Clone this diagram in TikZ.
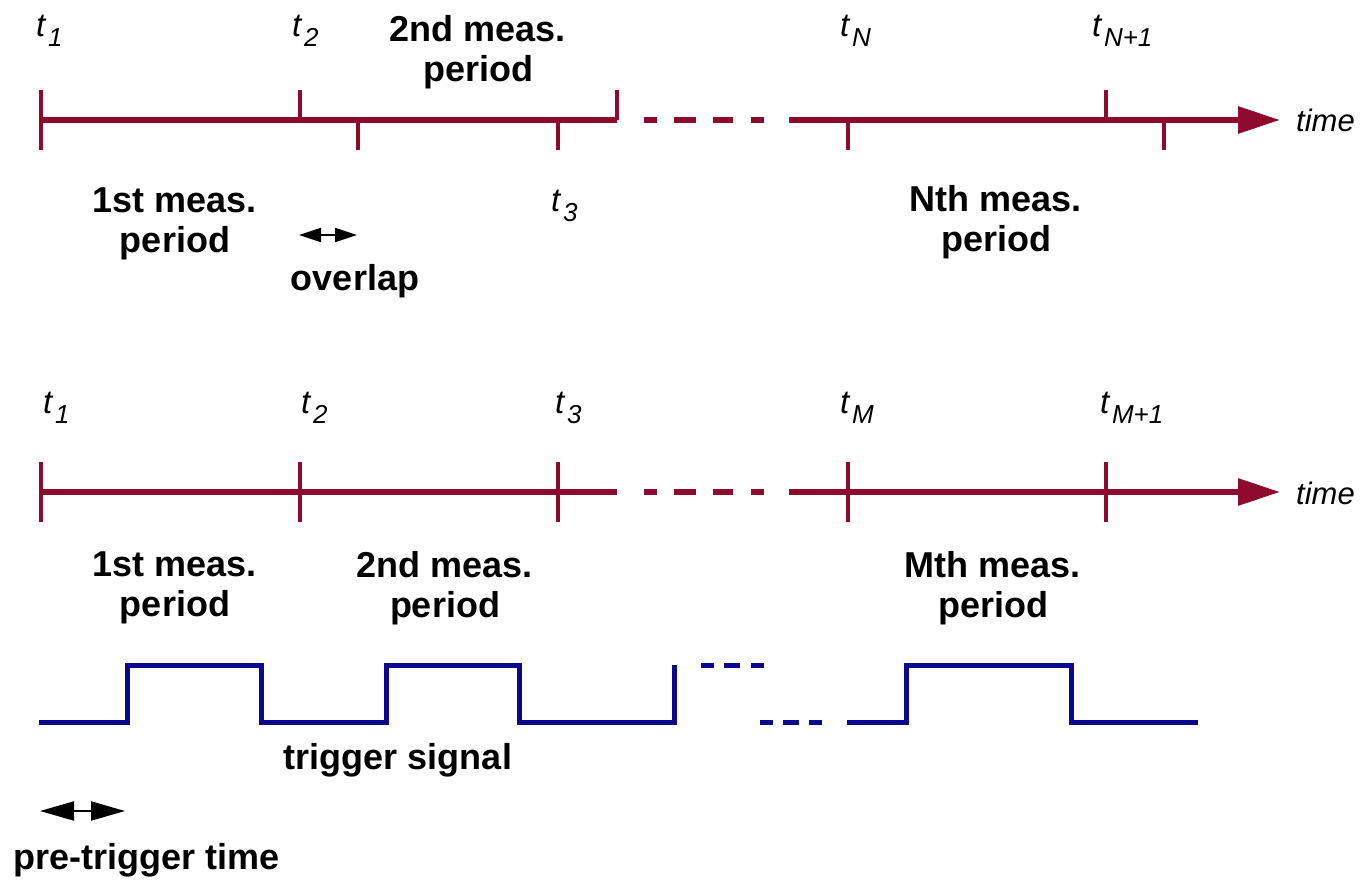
\documentclass[tikz,border=0pt]{standalone}
\usepackage{fontspec}
\setmainfont{Liberation Sans}
\usetikzlibrary{arrows.meta}
\definecolor{axred}{RGB}{143,11,46}
\definecolor{sigblue}{RGB}{10,8,140}
\newcommand{\tsym}[1]{\textit{t}\kern1.5pt\raisebox{-10pt}{\fontsize{26}{26}\selectfont\textit{#1}}}
\begin{document}
\begin{tikzpicture}[x=1pt,y=-1pt,
  axisline/.style={axred,line width=6pt},
  tickline/.style={axred,line width=4pt},
  sigline/.style={sigblue,line width=5pt},
  lbl/.style={font=\fontsize{36}{40}\selectfont\bfseries,align=center,inner sep=0pt},
  tlbl/.style={font=\fontsize{33}{36}\selectfont,inner sep=0pt,anchor=base west},
  timelbl/.style={font=\fontsize{31}{34}\selectfont\itshape,inner sep=0pt,anchor=base west},
  smallarr/.style={black,line width=2pt,{Triangle[length=22pt,width=14pt]}-{Triangle[length=22pt,width=14pt]}},
  bigarr/.style={black,line width=2pt,{Triangle[length=34pt,width=19pt]}-{Triangle[length=34pt,width=19pt]}},
  axtip/.style={-{Triangle[length=42pt,width=26pt]}}
]
\useasboundingbox (0,0) rectangle (1367,882);

% ---------- top timeline ----------
\coordinate (a1s) at (41,120);
\coordinate (a1e) at (617,120);
\coordinate (a2s) at (789,120);
\coordinate (a2e) at (1280,120);
\draw[axisline] (a1s) -- (a1e);
\draw[axisline] (644,120)--(657,120) (674,120)--(696,120) (713,120)--(733,120) (751,120)--(764,120);
\draw[axisline,axtip] (a2s) -- (a2e);
\draw[tickline] (41,90)--(41,150) (300,90)--(300,120) (358,120)--(358,150)
  (558,120)--(558,150) (617,90)--(617,120) (848,120)--(848,150)
  (1106,90)--(1106,120) (1164,120)--(1164,150);

\node[tlbl] (ta1) at (36,37) {\tsym{1}};
\node[tlbl] (ta2) at (292,37) {\tsym{2}};
\node[tlbl] (ta3) at (551,212) {\tsym{3}};
\node[tlbl] (taN) at (840,37) {\tsym{N}};
\node[tlbl] (taN1) at (1092,37) {\tsym{N+1}};
\node[timelbl] (time1) at (1296,132) {time};

\node[lbl] (p1a) at (175,224) {1st meas.\\period};
\node[lbl] (p2a) at (478,52) {2nd meas.\\period};
\node[lbl] (pNa) at (996,222) {Nth meas.\\period};

\coordinate (ovL) at (299,235);
\coordinate (ovR) at (357,235);
\draw[smallarr] (ovL) -- (ovR);
\node[lbl] (ov) at (355,281) {overlap};

% ---------- bottom timeline ----------
\coordinate (b1s) at (41,492);
\coordinate (b1e) at (617,492);
\coordinate (b2s) at (789,492);
\coordinate (b2e) at (1280,492);
\draw[axisline] (b1s) -- (b1e);
\draw[axisline] (644,492)--(657,492) (674,492)--(696,492) (713,492)--(733,492) (751,492)--(764,492);
\draw[axisline,axtip] (b2s) -- (b2e);
\draw[tickline] (41,462)--(41,522) (300,462)--(300,522) (558,462)--(558,522)
  (848,462)--(848,522) (1106,462)--(1106,522);

\node[tlbl] (tb1) at (43,413) {\tsym{1}};
\node[tlbl] (tb2) at (301,413) {\tsym{2}};
\node[tlbl] (tb3) at (555,413) {\tsym{3}};
\node[tlbl] (tbM) at (840,413) {\tsym{M}};
\node[tlbl] (tbM1) at (1100,413) {\tsym{M+1}};
\node[timelbl] (time2) at (1296,504) {time};

\node[lbl] (p1b) at (175,588) {1st meas.\\period};
\node[lbl] (p2b) at (445,588) {2nd meas.\\period};
\node[lbl] (pMb) at (993,588) {Mth meas.\\period};

% ---------- trigger signal ----------
\draw[sigline] (39,722)--(127,722)--(127,665)--(261,665)--(261,722)--(386,722)--(386,665)
  --(519,665)--(519,722)--(674,722)--(674,665);
\draw[sigline] (701,665)--(714,665) (724,665)--(740,665) (751,665)--(764,665);
\draw[sigline] (760,722)--(773,722) (783,722)--(799,722) (809,722)--(822,722);
\draw[sigline] (847,722)--(906,722)--(906,665)--(1071,665)--(1071,722)--(1198,722);
\node[lbl] (trig) at (398,760) {trigger signal};

\coordinate (ptL) at (40,811);
\coordinate (ptR) at (125,811);
\draw[bigarr] (ptL) -- (ptR);
\node[lbl] (pt) at (147,860) {pre-trigger time};
\end{tikzpicture}
\end{document}
